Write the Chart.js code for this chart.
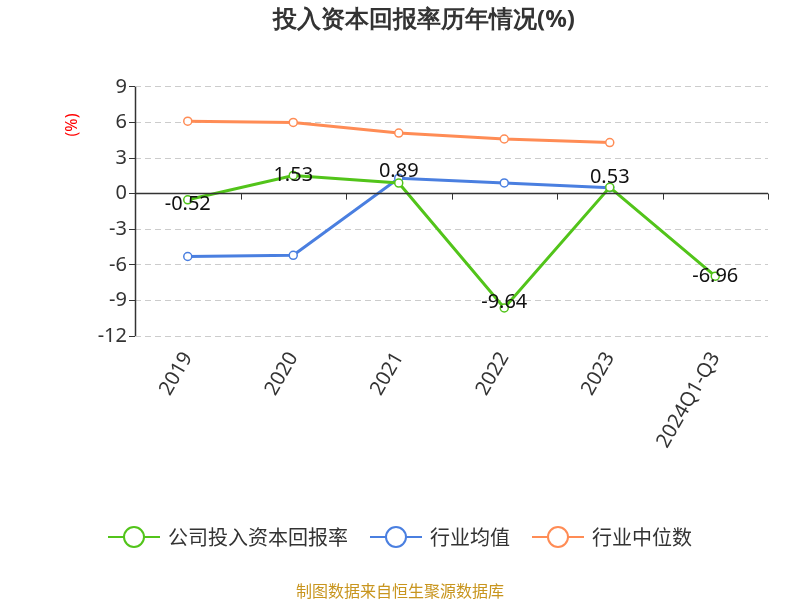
<!DOCTYPE html>
<html><head><meta charset="utf-8">
<script src="https://cdn.jsdelivr.net/npm/chart.js@4"></script>
<style>body{margin:0;background:#fff}#w{width:800px;height:600px;position:relative;font-family:"Noto Sans CJK SC","Noto Sans",sans-serif}
.lg{position:absolute;top:522px;left:0;width:800px;display:flex;justify-content:center;gap:22px;font-size:20px;color:#333}
.lg span{display:flex;align-items:center;gap:8px}
.lg svg{width:52px;height:28px}</style>
</head><body><div id="w"><canvas id="c" width="800" height="600"></canvas>
<script>
const categories=['2019','2020','2021','2022','2023','2024Q1-Q3'];
const companyValues=[-0.52,1.53,0.89,-9.64,0.53,-6.96];
const industryAvg=[-5.3,-5.2,1.3,0.9,0.5,null];
const industryMedian=[6.1,6.0,5.1,4.6,4.3,null];
const yTicks=[9,6,3,0,-3,-6,-9,-12];
const seriesNames=['公司投入资本回报率','行业均值','行业中位数'];
const colors=['#52c41a','#4a7fe0','#ff8c55'];
const F='"Noto Sans","DejaVu Sans",sans-serif';
const extras={id:'extras',
afterDatasetsDraw(ch){const c=ch.ctx,y=ch.scales.y,a=ch.chartArea;
 const y0=y.getPixelForValue(0);
 c.save();c.strokeStyle='#333';c.lineWidth=1.5;c.beginPath();c.moveTo(a.left,y0);c.lineTo(a.right,y0);c.stroke();
 c.beginPath();c.moveTo(a.left+0.5,a.top);c.lineTo(a.left+0.5,a.bottom);c.stroke();
 c.lineWidth=1;const w=(a.right-a.left)/categories.length;
 for(let i=0;i<=categories.length;i++){const px=Math.round(a.left+i*w)+0.5;c.beginPath();c.moveTo(px,y0);c.lineTo(px,y0+6);c.stroke();}
 c.font='20px '+F;c.fillStyle='#111';c.textAlign='center';c.textBaseline='middle';
 const m=ch.getDatasetMeta(0);const dy=[5,0,-12,-6,-10,0];
 companyValues.forEach((v,i)=>{const p=m.data[i];c.fillText(v.toFixed(2),p.x,p.y+dy[i]);});
 c.translate(72,125);c.rotate(-Math.PI/2);c.fillStyle='red';c.font='16px '+F;c.fillText('(%)',0,0);
 c.restore();}};
new Chart(document.getElementById('c'),{type:'line',
data:{labels:categories,datasets:[
{label:seriesNames[0],data:companyValues,borderColor:colors[0]},
{label:seriesNames[1],data:industryAvg,borderColor:colors[1]},
{label:seriesNames[2],data:industryMedian,borderColor:colors[2]}].map(d=>Object.assign(d,{borderWidth:3,pointRadius:4,pointBorderWidth:1.5,pointBackgroundColor:'#fff',backgroundColor:'#fff'}))},
options:{responsive:false,animation:false,
layout:{padding:{left:80,right:32,top:0,bottom:0}},
plugins:{title:{display:true,text:'投入资本回报率历年情况(%)',font:{size:24,weight:'bold',family:F},color:'#333',padding:{top:6,bottom:52}},
legend:{display:false},tooltip:{enabled:false}},
scales:{x:{offset:true,grid:{display:false},border:{display:false},afterFit(s){s.height=264;},ticks:{font:{size:20,family:F},color:'#333',minRotation:60,maxRotation:60,padding:4}},
y:{min:-12,max:9,afterBuildTicks(s){s.ticks=yTicks.map(v=>({value:v}));},afterFit(s){s.width=55;},
 grid:{color:'#ccc',drawTicks:true,tickLength:6,tickColor:'#333'},border:{display:false,dash:[6,4]},
 ticks:{font:{size:20,family:F},color:'#333',padding:2}}}},
plugins:[extras]});
const lg=document.createElement('div');lg.className='lg';
seriesNames.forEach((n,i)=>{lg.innerHTML+=`<span><svg viewBox="0 0 52 28"><line x1="0" y1="14" x2="52" y2="14" stroke="${colors[i]}" stroke-width="2"/><circle cx="26" cy="14" r="10" fill="#fff" stroke="${colors[i]}" stroke-width="2"/></svg>${n}</span>`;});
document.getElementById('w').appendChild(lg);
</script>
<div style="position:absolute;left:0;top:578px;width:800px;text-align:center;font-size:16px;color:#c8951e">制图数据来自恒生聚源数据库</div>
</div></body></html>
